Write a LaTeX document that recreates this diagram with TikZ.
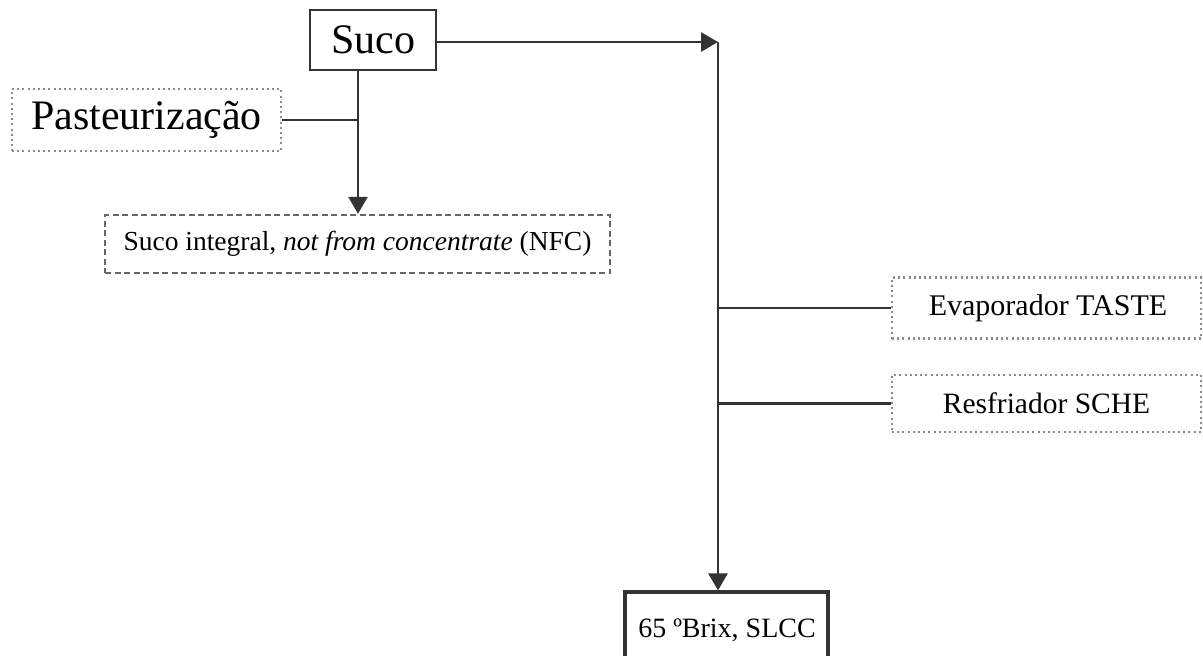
\documentclass[tikz,border=0pt]{standalone}
\usepackage{fontspec}
\setmainfont{Liberation Serif}
\usetikzlibrary{arrows.meta}
\definecolor{ln}{HTML}{333333}
\definecolor{dotc}{HTML}{8C8C8C}
\definecolor{dashc}{HTML}{666666}
\tikzset{
  solidbox/.style={draw=ln, line width=2.6pt, inner sep=0pt, fill=white},
  dotbox/.style={draw=dotc, line width=2.6pt, dash pattern=on 2pt off 3.2pt, inner sep=0pt},
  dashbox/.style={draw=dashc, line width=2.4pt, dash pattern=on 6pt off 3.5pt, inner sep=0pt},
  conn/.style={draw=ln, line width=2.8pt},
  arr/.style={conn, -{Triangle[length=17pt,width=19pt]}},
}
\begin{document}
\begin{tikzpicture}[x=1pt,y=-1pt]
\clip (0,0) rectangle (1203,656);
\fill[white] (0,0) rectangle (1203,656);
% nodes
\node[solidbox, minimum width=126pt, minimum height=60pt, font=\fontsize{42}{48}\selectfont] (suco) at (373,40) {Suco};
\node[dotbox, minimum width=269pt, minimum height=62pt, font=\fontsize{42}{48}\selectfont] (past) at (146.5,120) {Pasteurização};
\node[dashbox, minimum width=505pt, minimum height=58pt, font=\fontsize{27.5}{32}\selectfont] (nfc) at (357.5,244) {Suco integral, \textit{not from concentrate} (NFC)};
\node[dotbox, minimum width=309pt, minimum height=61pt, font=\fontsize{30}{36}\selectfont] (evap) at (1046.5,308) {\hspace*{3pt}Evaporador TASTE};
\node[dotbox, minimum width=309pt, minimum height=57pt, font=\fontsize{29.5}{36}\selectfont] (resf) at (1046.5,403.5) {Resfriador SCHE};
\node[solidbox, line width=3.2pt, minimum width=203pt, minimum height=78pt, font=\fontsize{28}{34}\selectfont, text depth=0pt] (slcc) at (726.5,631) {};
\node[font=\fontsize{28}{34}\selectfont] (slcct) at (727,630) {65 ºBrix, SLCC};
% junction coordinates
\coordinate (c1) at (718,42);
\coordinate (j1) at (358,121);
% connectors
\draw[arr] (suco.east |- c1) -- (c1);
\draw[arr] (c1) -- (c1 |- slcc.north);
\draw[arr] (j1 |- suco.south) -- (j1 |- nfc.north);
\draw[conn] (past.east) -- (past.east -| j1);
\draw[conn] (evap.west) -- (evap.west -| c1);
\draw[conn] (resf.west) -- (resf.west -| c1);
\end{tikzpicture}
\end{document}
